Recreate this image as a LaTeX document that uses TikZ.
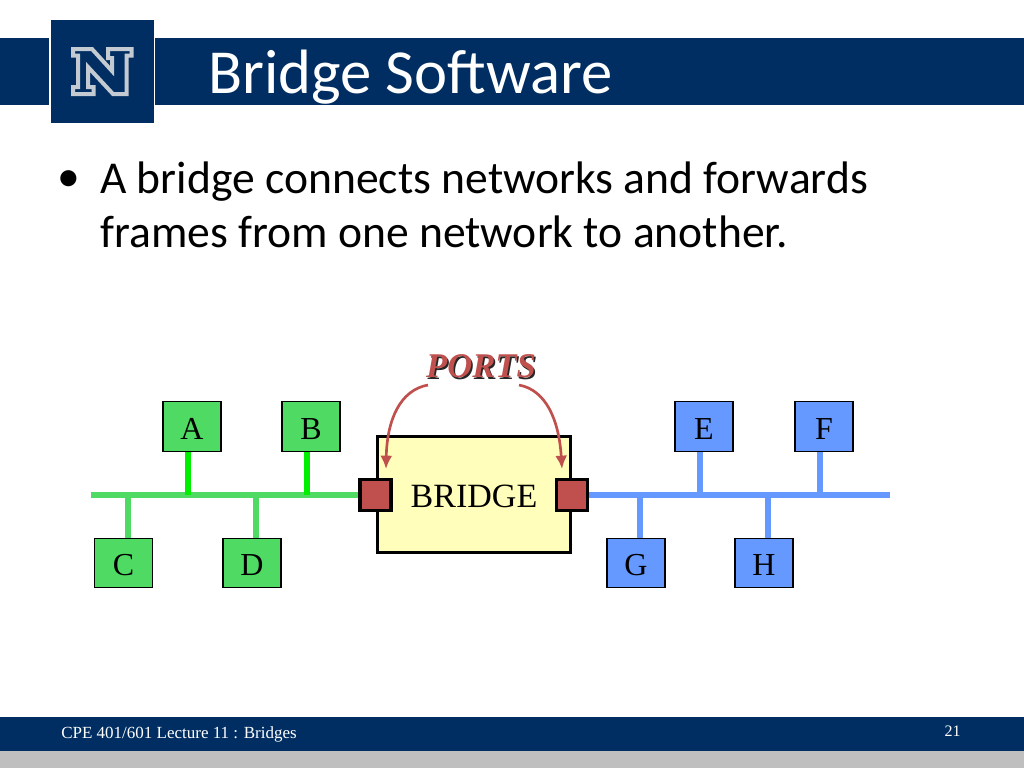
\documentclass[tikz,border=0pt]{standalone}
\usepackage{fontspec}
\setmainfont{Liberation Serif}
\newfontfamily\bodyfont{Carlito}
\usetikzlibrary{arrows.meta}
\definecolor{navy}{HTML}{002E62}
\definecolor{logogray}{HTML}{C4CAD2}
\definecolor{greenbox}{HTML}{4FDB63}
\definecolor{greenstub}{HTML}{00EE00}
\definecolor{bluebox}{HTML}{6699FF}
\definecolor{portred}{HTML}{C0504D}
\definecolor{bridgefill}{HTML}{FFFFBB}
\tikzset{
  station/.style={draw=black,line width=1pt,minimum width=58pt*0.75,minimum height=49.5pt*0.75,inner sep=0pt,font=\fontsize{24}{24}\selectfont,text=black,text height=19pt,text depth=0pt},
  greenst/.style={station,fill=greenbox},
  bluest/.style={station,fill=bluebox},
  portbox/.style={draw=black,line width=2.5pt,fill=portred,minimum width=31pt*0.75,minimum height=31pt*0.75,inner sep=0pt},
  gbus/.style={line width=4.2pt,draw=greenbox},
  bbus/.style={line width=4.2pt,draw=bluebox},
  gbright/.style={line width=4.2pt,draw=greenstub},
  arrowline/.style={draw=portred,line width=2pt,-{Latex[length=10pt,width=9pt]}}
}
\begin{document}
\begin{tikzpicture}[x=0.75pt,y=-0.75pt]
\useasboundingbox (0,0) rectangle (1024,768);
\fill[white] (0,0) rectangle (1024,768);
% header
\fill[navy] (0,38) rectangle (49,105);
\fill[navy] (155,38) rectangle (1024,105);
\fill[navy] (51,20) rectangle (153.5,122.5);
% N logo
\draw[logogray,line width=3pt,miter limit=4] (73,49) -- (92,49) -- (112,71) -- (112,58) -- (108,58) -- (108,49) -- (131.5,49) -- (131.5,55.5) -- (126.5,55.5) -- (126.5,94) -- (113,94) -- (88,67) -- (88,87) -- (93.5,87) -- (93.5,94) -- (73,94) -- (73,87) -- (78,87) -- (78,55.5) -- (73,55.5) -- cycle;
\node[anchor=base west,inner sep=0pt,text=white,font=\bodyfont\fontsize{47}{47}\selectfont] (title) at (208,93) {Bridge Software};
% body
\node[anchor=base west,inner sep=0pt,font=\bodyfont\fontsize{34.2}{34}\selectfont] (bul) at (57,191.5) {•};
\node[anchor=base west,inner sep=0pt,font=\bodyfont\fontsize{34.2}{34}\selectfont] (l1) at (100,193) {A bridge connects networks and forwards};
\node[anchor=base west,inner sep=0pt,font=\bodyfont\fontsize{34.2}{34}\selectfont] (l2) at (100,247) {frames from one network to another.};
% bus coordinates
\coordinate (gl) at (91,495);
\coordinate (bl) at (890,495);
\coordinate (ba) at (188,495);
\coordinate (bb) at (307,495);
\coordinate (bc) at (128,495);
\coordinate (bd) at (256,495);
\coordinate (be) at (700,495);
\coordinate (bf) at (820,495);
\coordinate (bg) at (640,495);
\coordinate (bh) at (768,495);
% bridge and ports
\node[draw=black,line width=2.5pt,fill=bridgefill,minimum width=193pt*0.75,minimum height=116pt*0.75,inner sep=0pt] (bridge) at (473.7,494.5) {};
\node[inner sep=0pt,font=\fontsize{25.5}{25.5}\selectfont,anchor=base] (bridgelabel) at (474,507) {BRIDGE};
% ports
\node[portbox] (pl) at (375.5,495) {};
\node[portbox] (pr) at (572,495) {};
% connectors
\draw[gbus] (gl) -- (pl.west);
\draw[bbus] (pr.east) -- (bl);
% stations
\node[greenst] (A) at (192,426.5) {A};
\node[greenst] (B) at (311,426.5) {B};
\node[greenst] (C) at (123.5,563) {C};
\node[greenst] (D) at (252,563) {D};
\node[bluest] (E) at (704,426.5) {E};
\node[bluest] (F) at (824,426.5) {F};
\node[bluest] (G) at (636,563) {G};
\node[bluest] (H) at (764,563) {H};
\draw[gbright] (A.south -| ba) -- (ba);
\draw[gbright] (B.south -| bb) -- (bb);
\draw[gbus] (C.north -| bc) -- (bc);
\draw[gbus] (D.north -| bd) -- (bd);
\draw[bbus] (E.south -| be) -- (be);
\draw[bbus] (F.south -| bf) -- (bf);
\draw[bbus] (G.north -| bg) -- (bg);
\draw[bbus] (H.north -| bh) -- (bh);
% ports label
\node[anchor=base,inner sep=0pt,text=black!85,font=\bfseries\itshape\fontsize{26}{26}\selectfont] (portsshadow) at (482.5,379) {PORTS};
\node[anchor=base,inner sep=0pt,text=portred,font=\bfseries\itshape\fontsize{26}{26}\selectfont] (ports) at (481,377.5) {PORTS};
\coordinate (al) at (428,385);
\coordinate (ar) at (519,385);
\draw[arrowline] (al) .. controls (400,390) and (387,420) .. (386,469);
\draw[arrowline] (ar) .. controls (546,390) and (559,420) .. (562,469);
% footer
\fill[navy] (0,717) rectangle (1024,751);
\fill[black!25] (0,751) rectangle (1024,768);
\node[anchor=base west,inner sep=0pt,text=white,font=\fontsize{12.75}{13}\selectfont] (foot) at (61,738) {CPE 401/601 Lecture 11 : Bridges};
\node[anchor=base east,inner sep=0pt,text=white,font=\fontsize{12}{13}\selectfont] (num) at (961,736) {21};
\end{tikzpicture}
\end{document}
